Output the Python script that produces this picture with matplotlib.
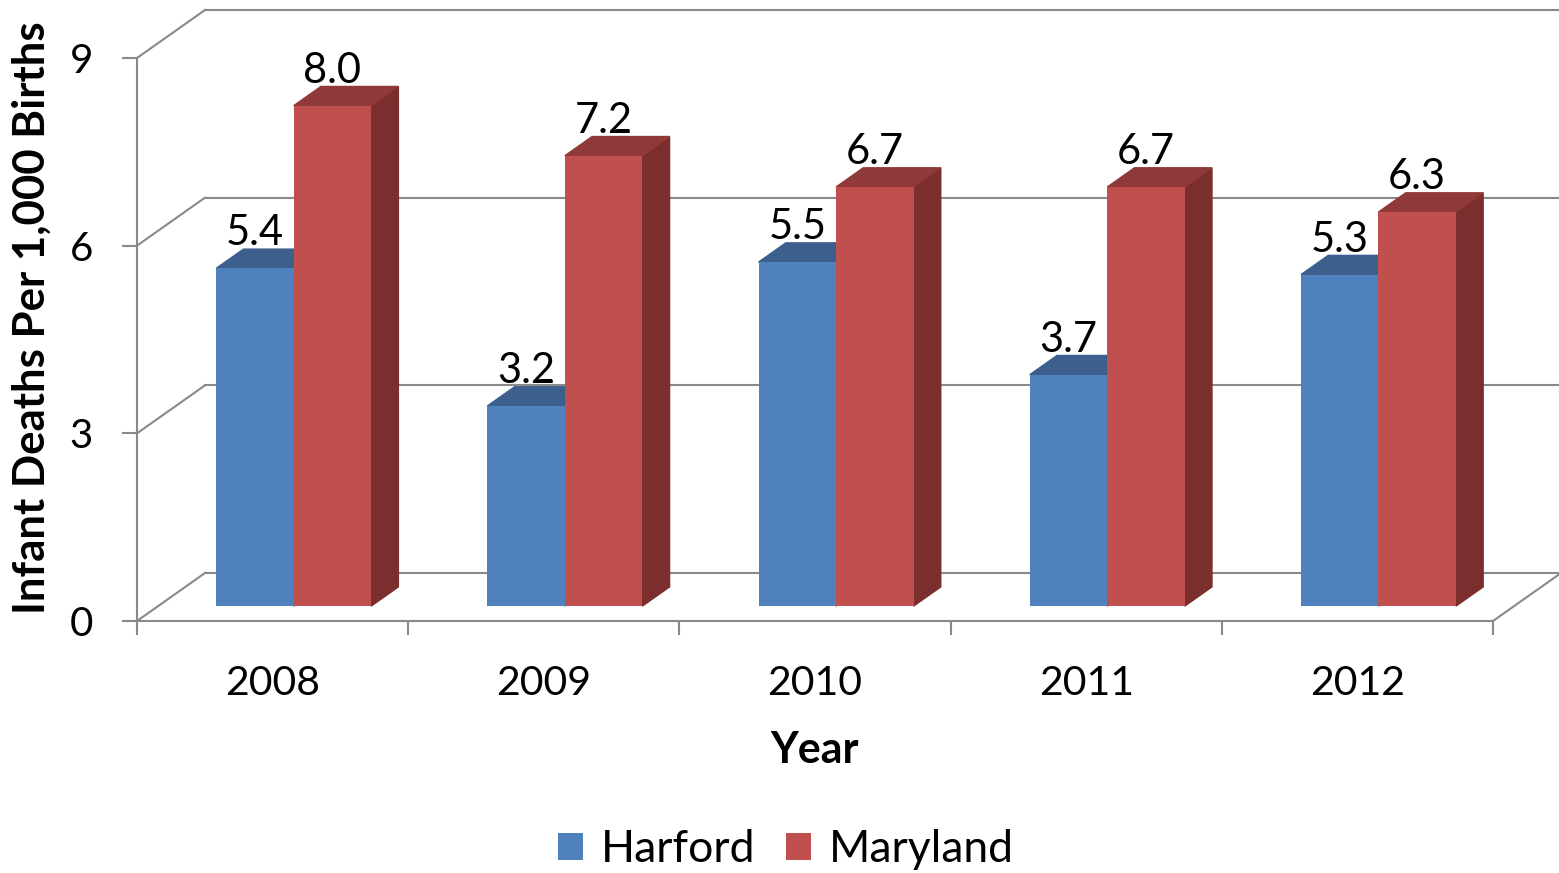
import numpy as np
import matplotlib.pyplot as plt
from matplotlib.patches import Polygon

# data
years = ['2008', '2009', '2010', '2011', '2012']
harford = [5.4, 3.2, 5.5, 3.7, 5.3]
maryland = [8.0, 7.2, 6.7, 6.7, 6.3]

plt.rcParams['font.family'] = ['Lato', 'DejaVu Sans']

fig = plt.figure(figsize=(15.59, 8.73), dpi=100)
# axes = front plane of the 3d box
ax = fig.add_axes([137/1559, 1 - 621/873, 1356/1559, 563/873])
ax.set_xlim(0, 5)
ax.set_ylim(0, 9)

# depth of the box in data units, and where the bars sit inside it
DX, DY = 68/271.2, 48/62.56
d_front, d_back = 0.31, 0.71
w = 2/7
grid_c = '#898989'
lw = 1.5

x = np.arange(len(years)) + 0.5

# walls and floor
for v in [0, 3, 6, 9]:
    ax.plot([0, DX], [v, v + DY], color=grid_c, lw=lw, clip_on=False, zorder=1)
    ax.plot([DX, 5.4], [v + DY, v + DY], color=grid_c, lw=lw, clip_on=False, zorder=1)
ax.plot([5, 5 + DX], [0, DY], color=grid_c, lw=lw, clip_on=False, zorder=1)


def bar3d(xs, vals, c_front, c_top, c_side, z, label):
    bars = ax.bar(xs + d_front*DX, vals, width=w, bottom=d_front*DY,
                  color=c_front, zorder=z + 0.2, label=label, clip_on=False)
    dd = d_back - d_front
    for xc, v in zip(xs, vals):
        xl = xc - w/2 + d_front*DX
        yb = d_front*DY
        top = [(xl, v + yb), (xl + w, v + yb),
               (xl + w + dd*DX, v + d_back*DY), (xl + dd*DX, v + d_back*DY)]
        side = [(xl + w, yb), (xl + w + dd*DX, d_back*DY),
                (xl + w + dd*DX, v + d_back*DY), (xl + w, v + yb)]
        ax.add_patch(Polygon(side, closed=True, color=c_side, zorder=z, clip_on=False))
        ax.add_patch(Polygon(top, closed=True, color=c_top, zorder=z + 0.1, clip_on=False))
        ax.annotate(f'{v:.1f}', (xc + d_front*DX, v + yb), xytext=(0, 23*0.72),
                    textcoords='offset points', ha='center', va='baseline',
                    fontsize=30, zorder=10, annotation_clip=False)
    return bars


h1 = bar3d(x - w/2, harford, '#4F81BD', '#3C5F8D', '#375A85', 2, 'Harford')
h2 = bar3d(x + w/2, maryland, '#C0504D', '#8F3A38', '#7A2E2D', 3, 'Maryland')

# axes styling
for s in ['top', 'right']:
    ax.spines[s].set_visible(False)
for s in ['left', 'bottom']:
    ax.spines[s].set_color(grid_c)
    ax.spines[s].set_linewidth(lw)

ax.set_yticks([0, 3, 6, 9])
ax.tick_params(axis='y', length=10.8, width=lw, color=grid_c, labelsize=29, pad=21)
ax.set_xticks(range(6))
ax.set_xticklabels([])
ax.tick_params(axis='x', which='major', length=10, width=lw, color=grid_c)
ax.set_xticks(x, minor=True)
ax.set_xticklabels(years, minor=True)
ax.tick_params(axis='x', which='minor', length=0, labelsize=29.5, pad=32)

fig.text(32/1559, 1 - 318/873, 'Infant Deaths Per 1,000 Births', rotation=90,
         ha='center', va='center', fontweight='bold', fontsize=31.5)
fig.text(815/1559, 1 - 750/873, 'Year', ha='center', va='center',
         fontweight='bold', fontsize=31)

fig.legend(handles=[h1, h2], loc='center', bbox_to_anchor=(786/1559, 1 - 850/873),
           ncol=2, frameon=False, fontsize=32, handlelength=0.55, handleheight=0.55,
           handletextpad=0.4, columnspacing=0.7)

fig.savefig('out.png', dpi=100)
